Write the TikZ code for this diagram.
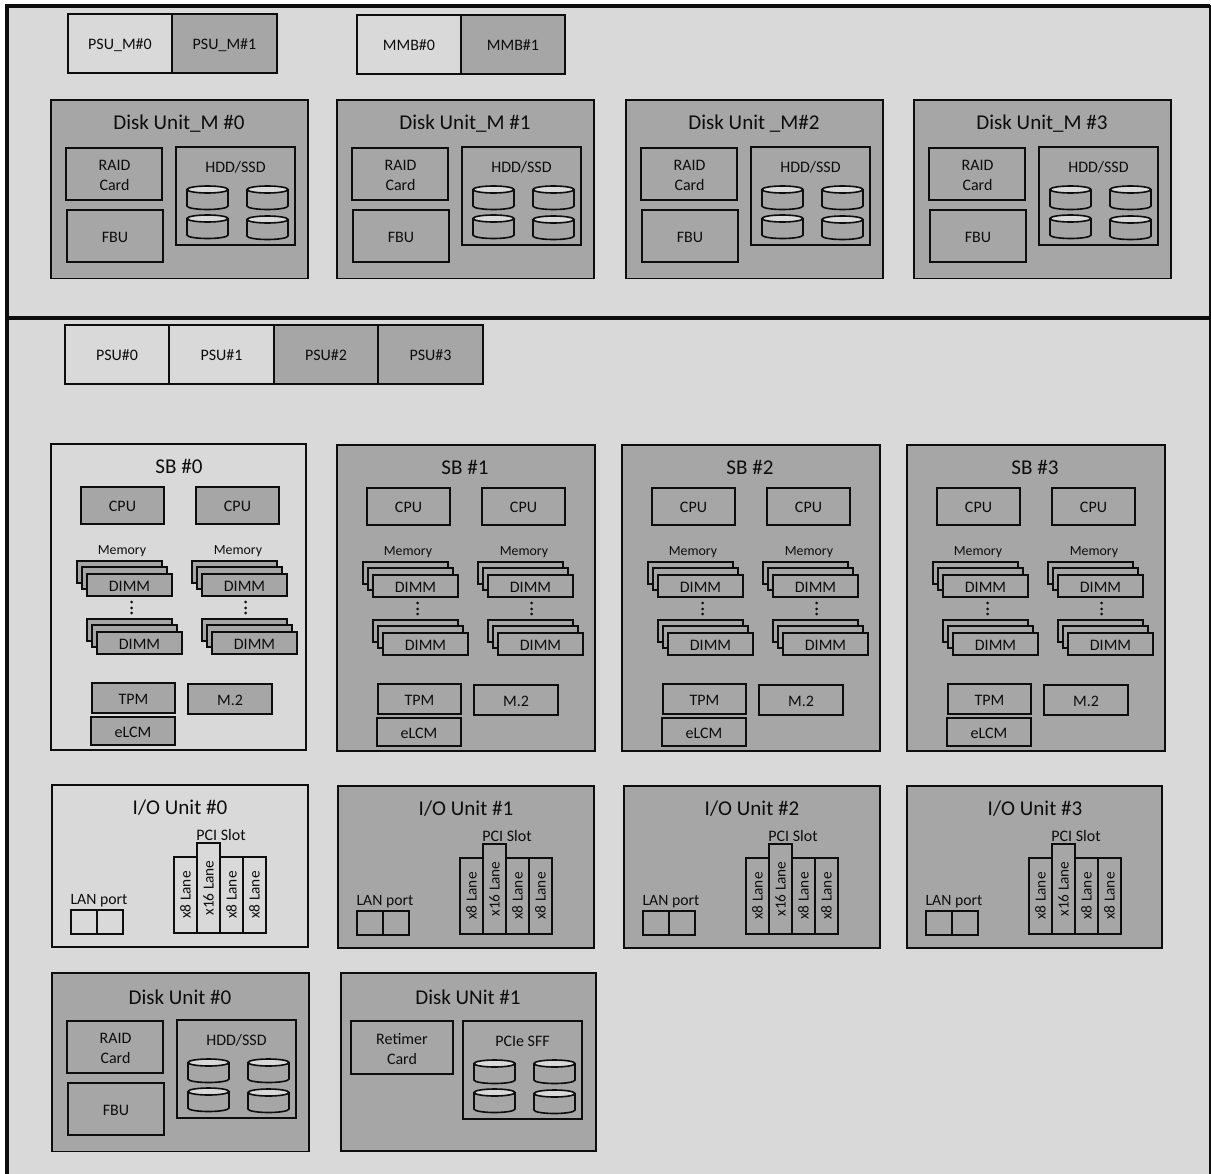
\documentclass[tikz,border=0pt]{standalone}
\usepackage{fontspec}
\setmainfont{Carlito}
\usetikzlibrary{calc}
\definecolor{Shell}{HTML}{D9D9D9}
\definecolor{Part}{HTML}{A6A6A6}
\definecolor{Ink}{HTML}{0D0D0D}
\tikzset{
  pxsize/.style 2 args={minimum width=#1*0.75pt,minimum height=#2*0.75pt},
  partbox/.style={draw=Ink,fill=Part,line width=1.4pt,anchor=north west,inner sep=0pt,outer sep=0pt,align=center,font=\fontsize{12}{15}\selectfont,text=Ink,text height=9.2pt,text depth=0pt},
  lightbox/.style={partbox,fill=Shell},
  plainbox/.style={text height=,text depth=},
  unitbox/.style={draw=Ink,fill=#1,line width=1.2pt,anchor=north west,inner sep=0pt,outer sep=0pt},
  unitlabel/.style={font=\fontsize{15.8}{18}\selectfont,text=Ink,inner sep=0pt},
  smalllabel/.style={font=\fontsize{12}{15}\selectfont,text=Ink,inner sep=0pt,align=center},
  drumline/.style={draw=Ink,line width=1.2pt},
  dotlabel/.style={circle,fill=Ink,inner sep=0pt,minimum size=2.2pt}
}
% one disk drawn directly: x, y of its top left corner
\newcommand{\drum}[2]{
  \draw[drumline,fill=Part] ($(#1,#2)+(20.5,20)$) ellipse [x radius=20.5, y radius=3.5];
  \fill[Part] ($(#1,#2)+(0,3.5)$) rectangle ($(#1,#2)+(41,20)$);
  \draw[drumline] ($(#1,#2)+(0,3.5)$) -- ($(#1,#2)+(0,20)$);
  \draw[drumline] ($(#1,#2)+(41,3.5)$) -- ($(#1,#2)+(41,20)$);
  \draw[drumline,fill=Shell] ($(#1,#2)+(20.5,3.5)$) ellipse [x radius=20.5, y radius=3.5];
}
% disk bay: name, x, y, label
\newcommand{\drumbay}[4]{
  \node[partbox,pxsize={119}{98}] (#1) at (#2,#3) {};
  \node[smalllabel] (#1t) at ($(#2,#3)+(59.5,20.5)$) {#4};
  \drum{#2+11}{#3+39}
  \drum{#2+71}{#3+39}
  \drum{#2+11}{#3+68}
  \drum{#2+71}{#3+69}
}
% disk unit: name, x, y, title
\newcommand{\diskunit}[4]{
  \node[unitbox=Part,pxsize={257}{178.5}] (#1) at (#2,#3) {};
  \node[unitlabel] (#1t) at ($(#2,#3)+(128,24)$) {#4};
  \node[partbox,pxsize={96}{52}] (#1raid) at ($(#2,#3)+(15,48)$) {};
  \node[smalllabel] (#1raidt) at ($(#2,#3)+(63.5,75)$) {RAID\\Card};
  \node[partbox,pxsize={96}{52}] (#1fbu) at ($(#2,#3)+(16,110)$) {FBU};
  \drumbay{#1bay}{#2+125}{#3+47}{HDD/SSD}
}
% memory stack: name, x, y
\newcommand{\dimmstack}[3]{
  \node[partbox,pxsize={85}{22}] (#1a) at (#2,#3) {};
  \node[partbox,pxsize={85}{22}] (#1b) at ($(#2,#3)+(5,6)$) {};
  \node[partbox,pxsize={85}{22}] (#1c) at ($(#2,#3)+(10,13)$) {DIMM};
}
% system board: name, x, y, width, fill, title
\newcommand{\sbunit}[6]{
  \node[unitbox=#5,pxsize={#4}{306}] (#1) at (#2,#3) {};
  \node[unitlabel] (#1t) at ($(#2,#3)+(128,22.5)$) {#6};
  \node[partbox,pxsize={83}{37}] (#1cpua) at ($(#2,#3)+(30,43)$) {CPU};
  \node[partbox,pxsize={83}{37}] (#1cpub) at ($(#2,#3)+(145,43)$) {CPU};
  \node[smalllabel,font=\fontsize{10.4}{12}\selectfont] (#1mema) at ($(#2,#3)+(71,107.5)$) {Memory};
  \node[smalllabel,font=\fontsize{10.4}{12}\selectfont] (#1memb) at ($(#2,#3)+(187,107.5)$) {Memory};
  \dimmstack{#1s}{#2+26}{#3+117}
  \dimmstack{#1u}{#2+141}{#3+117}
  \dimmstack{#1v}{#2+36}{#3+175}
  \dimmstack{#1w}{#2+151}{#3+175}
  \foreach \dy in {158,164,169} {
    \node[dotlabel] at ($(#2,#3)+(80.7,\dy)$) {};
    \node[dotlabel] at ($(#2,#3)+(194.7,\dy)$) {};
  }
  \node[partbox,pxsize={83}{30}] (#1tpm) at ($(#2,#3)+(41,239)$) {TPM};
  \node[partbox,pxsize={84}{30}] (#1mtwo) at ($(#2,#3)+(137,240)$) {M.2};
  \node[partbox,pxsize={84}{28}] (#1elcm) at ($(#2,#3)+(40,273)$) {eLCM};
}
% i/o unit: name, x, y, width, box style, fill, title
\newcommand{\iounit}[7]{
  \node[unitbox=#6,pxsize={#4}{162}] (#1) at (#2,#3) {};
  \node[unitlabel] (#1t) at ($(#2,#3)+(128,23)$) {#7};
  \node[smalllabel] (#1pci) at ($(#2,#3)+(169,49.5)$) {PCI Slot};
  \node[#5,plainbox,font=\fontsize{11.5}{12}\selectfont,pxsize={23}{76}] (#1sa) at ($(#2,#3)+(122,72)$) {\rotatebox{90}{x8 Lane}};
  \node[#5,plainbox,font=\fontsize{11.5}{12}\selectfont,pxsize={23}{90}] (#1sb) at ($(#2,#3)+(145,58)$) {\rotatebox{90}{x16 Lane}};
  \node[#5,plainbox,font=\fontsize{11.5}{12}\selectfont,pxsize={23}{76}] (#1sc) at ($(#2,#3)+(168,72)$) {\rotatebox{90}{x8 Lane}};
  \node[#5,plainbox,font=\fontsize{11.5}{12}\selectfont,pxsize={23}{76}] (#1sd) at ($(#2,#3)+(191,72)$) {\rotatebox{90}{x8 Lane}};
  \node[smalllabel,font=\fontsize{11.8}{12}\selectfont] (#1lan) at ($(#2,#3)+(47,115.5)$) {LAN port};
  \node[#5,pxsize={26}{24}] (#1la) at ($(#2,#3)+(19,125)$) {};
  \node[#5,pxsize={26}{24}] (#1lb) at ($(#2,#3)+(45,125)$) {};
}
\begin{document}
\begin{tikzpicture}[x=0.75pt,y=-0.75pt]
  \useasboundingbox (0,0) rectangle (1211,1174);
  \fill[white] (0,0) rectangle (1211,1174);
  % outer frame
  \node[unitbox=Shell,line width=1.2pt,pxsize={1203}{1250}] (frame) at (7,6) {};
  \draw[Ink,line width=3pt] (frame.south west) -- (frame.north west) -- (frame.north east);
  \coordinate (cutl) at (7,317.5);
  \coordinate (cutr) at (1210,317.5);
  \draw[Ink,line width=3pt] (cutl) -- (cutr);
  % top shelf
  \node[lightbox,pxsize={104}{59}] (psum0) at (68,14) {PSU\_M\#0};
  \node[partbox,pxsize={105}{59}] (psum1) at (172,14) {PSU\_M\#1};
  \node[lightbox,pxsize={104}{59}] (mmb0) at (357,15) {MMB\#0};
  \node[partbox,pxsize={104}{59}] (mmb1) at (461,15) {MMB\#1};
  \diskunit{dm0}{51}{100}{Disk Unit\_M \#0}
  \diskunit{dm1}{337}{100}{Disk Unit\_M \#1}
  \diskunit{dm2}{626}{100}{Disk Unit \_M\#2}
  \diskunit{dm3}{914}{100}{Disk Unit\_M \#3}
  % lower shelf
  \node[lightbox,pxsize={104}{59}] (psu0) at (65,325) {PSU\#0};
  \node[lightbox,pxsize={105}{59}] (psu1) at (169,325) {PSU\#1};
  \node[partbox,pxsize={104}{59}] (psu2) at (274,325) {PSU\#2};
  \node[partbox,pxsize={105}{59}] (psu3) at (378,325) {PSU\#3};
  \sbunit{sb0}{51}{444}{255}{Shell}{SB \#0}
  \sbunit{sb1}{337}{445}{258}{Part}{SB \#1}
  \sbunit{sb2}{622}{445}{258}{Part}{SB \#2}
  \sbunit{sb3}{907}{445}{258}{Part}{SB \#3}
  \iounit{io0}{52}{785}{256}{lightbox}{Shell}{I/O Unit \#0}
  \iounit{io1}{338}{786}{256}{partbox}{Part}{I/O Unit \#1}
  \iounit{io2}{624}{786}{256}{partbox}{Part}{I/O Unit \#2}
  \iounit{io3}{907}{786}{255}{partbox}{Part}{I/O Unit \#3}
  \diskunit{du0}{52}{973}{Disk Unit \#0}
  % last unit
  \node[unitbox=Part,pxsize={255}{178}] (du1) at (341,973) {};
  \node[unitlabel] (du1t) at (468,997) {Disk UNit \#1};
  \node[partbox,pxsize={102}{53}] (du1card) at (351,1021) {};
  \node[smalllabel] (du1cardt) at (402,1049) {Retimer\\Card};
  \drumbay{du1bay}{463}{1021}{PCIe SFF}
\end{tikzpicture}
\end{document}
